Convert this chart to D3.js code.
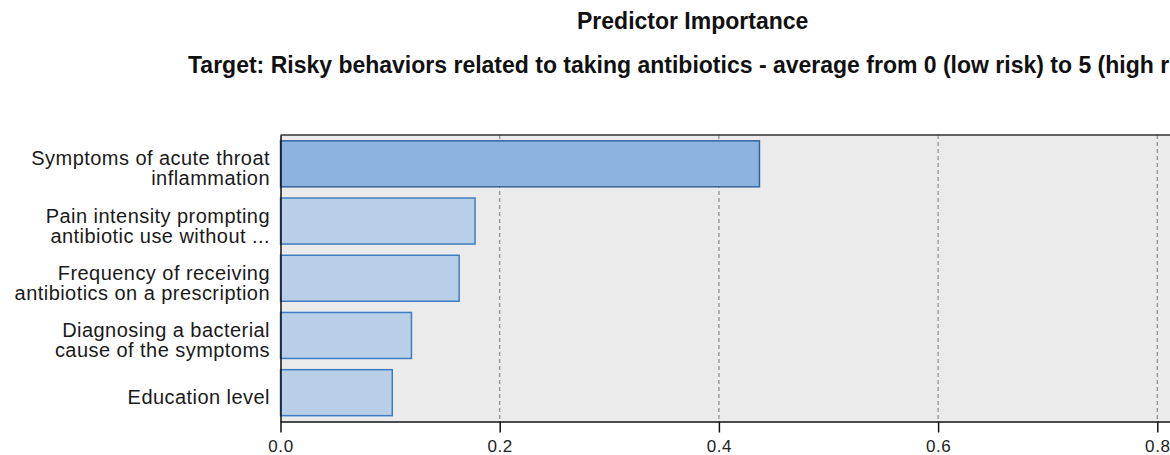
<!DOCTYPE html>
<html>
<head>
<meta charset="utf-8">
<script src="https://cdn.jsdelivr.net/npm/d3@7"></script>
<style>
  body { margin: 0; background: #fff; }
  svg { display: block; }
</style>
</head>
<body>
<script>
// Predictor labels (already wrapped the way the chart shows them)
const predictors = [
  ["Symptoms of acute throat", "inflammation"],
  ["Pain intensity prompting", "antibiotic use without ..."],
  ["Frequency of receiving", "antibiotics on a prescription"],
  ["Diagnosing a bacterial", "cause of the symptoms"],
  ["Education level"]
];
const importance = [0.437, 0.1775, 0.163, 0.1195, 0.102];
const xTicks = [0, 0.2, 0.4, 0.6, 0.8];

const chartTitle = "Predictor Importance";
const chartSubtitle = "Target: Risky behaviors related to taking antibiotics - average from 0 (low risk) to 5 (high risk)";

const width = 1170, height = 455;
const margin = { top: 135, left: 280.5, bottom: 421.5 };

const svg = d3.select("body").append("svg")
  .attr("width", width)
  .attr("height", height)
  .attr("viewBox", [0, 0, width, height]);

// x scale: 0.2 per ~219px, plot runs off the right edge
const x = d3.scaleLinear()
  .domain([0, 0.82])
  .range([margin.left, margin.left + 0.82 * 1096]);

const y = d3.scaleBand()
  .domain(d3.range(predictors.length))
  .range([margin.top, margin.bottom])
  .paddingInner(0.196)
  .paddingOuter(0.102);

// Titles
svg.append("text")
  .attr("x", 577).attr("y", 29)
  .attr("font-family", "'Liberation Sans', Arial, sans-serif")
  .attr("font-weight", "bold")
  .attr("font-size", 23)
  .attr("fill", "#111")
  .text(chartTitle);

// subtitle runs past the right edge, as in the source
svg.append("text")
  .attr("x", 188).attr("y", 73)
  .attr("font-family", "'Liberation Sans', Arial, sans-serif")
  .attr("font-weight", "bold")
  .attr("font-size", 23)
  .attr("fill", "#111")
  .text(chartSubtitle);

// Plot background
svg.append("rect")
  .attr("x", margin.left)
  .attr("y", margin.top)
  .attr("width", width - margin.left + 10)
  .attr("height", margin.bottom - margin.top)
  .attr("fill", "#ebebeb");

// Dashed grid lines
svg.append("g")
  .selectAll("line")
  .data(xTicks.filter(d => d > 0))
  .join("line")
  .attr("x1", d => x(d)).attr("x2", d => x(d))
  .attr("y1", margin.top).attr("y2", margin.bottom)
  .attr("stroke", "#8a8a8a")
  .attr("stroke-width", 1.2)
  .attr("stroke-dasharray", "4,3");

// Top border
svg.append("line")
  .attr("x1", margin.left).attr("x2", width)
  .attr("y1", margin.top).attr("y2", margin.top)
  .attr("stroke", "#333")
  .attr("stroke-width", 1.5);

// Bars
svg.append("g")
  .selectAll("rect")
  .data(importance)
  .join("rect")
  .attr("x", x(0))
  .attr("y", (d, i) => y(i))
  .attr("width", d => x(d) - x(0))
  .attr("height", y.bandwidth())
  .attr("fill", (d, i) => i === 0 ? "#8cb4e0" : "#b9cfe7")
  .attr("stroke", (d, i) => i === 0 ? "#35639a" : "#3f7dc2")
  .attr("stroke-width", 1.5);

// Predictor labels
const labels = svg.append("g")
  .attr("font-family", "'Liberation Sans', Arial, sans-serif")
  .attr("font-size", 20)
  .attr("letter-spacing", 0.45)
  .attr("fill", "#1a1a1a")
  .attr("text-anchor", "end");

labels.selectAll("text")
  .data(predictors)
  .join("text")
  .attr("y", (d, i) => y(i) + y.bandwidth() / 2 + (d.length > 1 ? 1.5 : 11))
  .selectAll("tspan")
  .data(d => d)
  .join("tspan")
  .attr("x", 270)
  .attr("dy", (t, j) => j === 0 ? 0 : 20)
  .text(t => t);

// x axis
const xAxis = svg.append("g")
  .attr("transform", `translate(0,${margin.bottom})`)
  .call(d3.axisBottom(x)
    .tickValues(xTicks)
    .tickFormat(d3.format(".1f"))
    .tickSize(11)
    .tickSizeOuter(0));
xAxis.select(".domain").attr("stroke", "#111").attr("stroke-width", 1.5);
xAxis.selectAll(".tick line").attr("stroke", "#111").attr("stroke-width", 1.5);
xAxis.selectAll(".tick text")
  .attr("font-family", "'Liberation Sans', Arial, sans-serif")
  .attr("font-size", 17)
  .attr("letter-spacing", 0.6)
  .attr("fill", "#222")
  .attr("dy", "0.98em");

// left axis line
svg.append("g")
  .attr("transform", `translate(${margin.left},0)`)
  .call(d3.axisLeft(y).tickValues([]).tickSizeOuter(0))
  .select(".domain").attr("stroke", "#111").attr("stroke-width", 1.5);
</script>
</body>
</html>
